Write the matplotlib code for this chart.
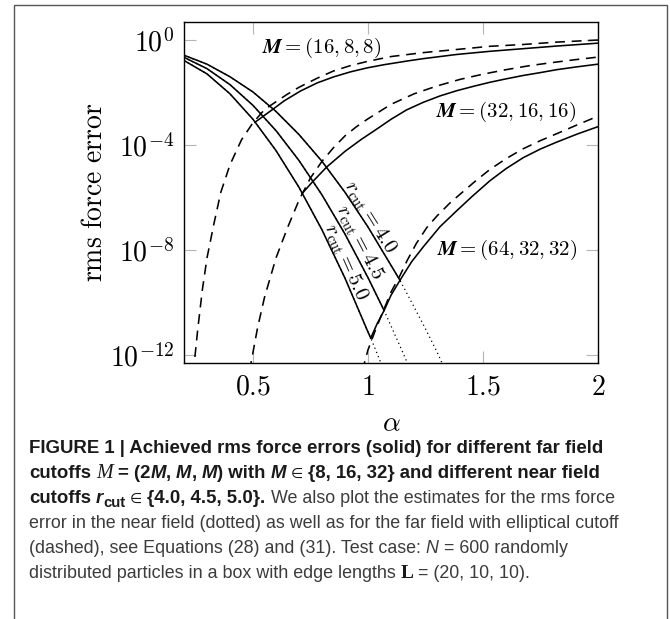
import matplotlib
matplotlib.use("Agg")
import matplotlib.pyplot as plt
from matplotlib import font_manager
from matplotlib.patches import Rectangle
from matplotlib.ticker import NullLocator
import numpy as np

# ---- data (log10 of rms force error) ----
# near field estimates (dotted) per r_cut; achieved error follows them up to the kink
near40_alpha = [0.2, 0.3, 0.4, 0.5, 0.6, 0.7, 0.8, 0.9, 1.0, 1.1, 1.139, 1.2, 1.25, 1.3, 1.33]
near40_log = [-0.58, -0.92, -1.40, -1.98, -2.72, -3.60, -4.62, -5.80, -7.12, -8.58, -9.15, -10.16, -11.0, -11.88, -12.45]
near45_alpha = [0.2, 0.3, 0.4, 0.5, 0.6, 0.7, 0.8, 0.9, 1.0, 1.07, 1.1, 1.15, 1.18]
near45_log = [-0.66, -1.09, -1.70, -2.49, -3.45, -4.59, -5.90, -7.39, -9.05, -10.30, -10.89, -11.87, -12.48]
near50_alpha = [0.2, 0.3, 0.4, 0.5, 0.6, 0.7, 0.8, 0.9, 1.0, 1.012, 1.04, 1.07]
near50_log = [-0.78, -1.29, -2.05, -3.02, -4.21, -5.61, -7.23, -9.07, -11.12, -11.35, -11.95, -12.6]
kink_alpha = {"4.0": 1.139, "4.5": 1.07, "5.0": 1.012}

# far field estimates (dashed), elliptical cutoff
far16_est_alpha = [0.24, 0.26, 0.28, 0.30, 0.33, 0.36, 0.40, 0.45, 0.50, 0.55, 0.60, 0.65, 0.70, 0.78,
                   0.85, 0.925, 1.0, 1.1, 1.24, 1.386, 1.53, 1.675, 1.82, 2.0]
far16_est_log = [-12.7, -11.0, -9.5, -8.3, -7.0, -5.8, -4.75, -3.8, -3.15, -2.65, -2.35, -2.06, -1.80, -1.45,
                 -1.18, -0.97, -0.81, -0.63, -0.48, -0.36, -0.24, -0.17, -0.08, 0.0]
far32_est_alpha = [0.485, 0.52, 0.55, 0.60, 0.65, 0.70, 0.75, 0.80, 0.85, 0.90, 0.95, 1.0, 1.1, 1.2, 1.3,
                   1.4, 1.5, 1.6, 1.7, 1.8, 1.9, 2.0]
far32_est_log = [-12.6, -10.95, -9.8, -8.3, -7.15, -6.1, -5.25, -4.62, -4.1, -3.65, -3.3, -3.0, -2.45, -2.05,
                 -1.75, -1.5, -1.3, -1.13, -0.98, -0.86, -0.75, -0.65]
far64_est_alpha = [0.975, 1.0, 1.03, 1.06, 1.10, 1.14, 1.17, 1.21, 1.255, 1.30, 1.357, 1.41, 1.47, 1.53,
                   1.60, 1.675, 1.75, 1.82, 1.91, 2.0]
far64_est_log = [-12.6, -11.8, -11.1, -10.45, -9.6, -8.95, -8.4, -7.75, -7.15, -6.7, -6.2, -5.8, -5.35, -4.93,
                 -4.52, -4.14, -3.83, -3.57, -3.23, -2.90]

# achieved far field branches (solid), starting at the r_cut = 5.0 kink
far16_alpha = [0.509, 0.545, 0.586, 0.635, 0.707, 0.78, 0.852, 0.925, 0.997, 1.07, 1.17, 1.24, 1.386,
               1.53, 1.675, 1.82, 2.0]
far16_log = [-3.13, -2.90, -2.64, -2.32, -1.94, -1.63, -1.40, -1.21, -1.06, -0.94, -0.80, -0.71, -0.55,
             -0.43, -0.33, -0.23, -0.12]
far32_alpha = [0.714, 0.761, 0.82, 0.90, 0.97, 1.04, 1.10, 1.168, 1.241, 1.313, 1.386, 1.46, 1.53, 1.6,
               1.675, 1.75, 1.82, 1.91, 2.0]
far32_log = [-5.84, -5.38, -4.84, -4.24, -3.79, -3.38, -3.02, -2.66, -2.37, -2.13, -1.93, -1.76, -1.61,
             -1.48, -1.35, -1.24, -1.13, -1.02, -0.92]
far64_alpha = [1.012, 1.04, 1.07, 1.10, 1.139, 1.19, 1.241, 1.313, 1.386, 1.451, 1.53, 1.60, 1.675, 1.75,
               1.82, 1.91, 2.0]
far64_log = [-11.35, -10.80, -10.30, -9.72, -9.15, -8.44, -7.87, -7.11, -6.50, -5.97, -5.36, -4.90, -4.48,
             -4.15, -3.89, -3.58, -3.30]

ytick_vals = [1e0, 1e-4, 1e-8, 1e-12]
ytick_labels = [r"$10^{0}$", r"$10^{-4}$", r"$10^{-8}$", r"$10^{-12}$"]
xtick_vals = [0.5, 1, 1.5, 2]
xtick_labels = [r"$0.5$", r"$1$", r"$1.5$", r"$2$"]

plt.rcParams["mathtext.fontset"] = "cm"

W, H = 670, 619
fig = plt.figure(figsize=(W / 100, H / 100), dpi=100)
ax = fig.add_axes([184 / W, 1 - 363 / H, 414 / W, 341 / H])
ax.set_yscale("log")
ax.set_xlim(0.2, 2.0)
ax.set_ylim(10 ** -12.3, 10 ** 0.686)

lw = 1.15
dashed = (0, (6.2, 4.2))
dotted = (0, (1, 2.6))

for a, v in [(far16_est_alpha, far16_est_log), (far32_est_alpha, far32_est_log), (far64_est_alpha, far64_est_log)]:
    ax.plot(a, 10.0 ** np.array(v), color="black", lw=lw, linestyle=dashed, zorder=2)

for key, a, v in [("4.0", near40_alpha, near40_log), ("4.5", near45_alpha, near45_log), ("5.0", near50_alpha, near50_log)]:
    a = np.array(a)
    v = 10.0 ** np.array(v)
    ax.plot(a, v, color="black", lw=0.9, linestyle=dotted, zorder=2)
    m = a <= kink_alpha[key] + 1e-9
    ax.plot(a[m], v[m], color="black", lw=lw, zorder=3)

for a, v in [(far16_alpha, far16_log), (far32_alpha, far32_log), (far64_alpha, far64_log)]:
    ax.plot(a, 10.0 ** np.array(v), color="black", lw=lw, zorder=3)

# labels in the plot
lab = 15
ax.text(0.80, 10 ** -0.30, r"$\mathbfit{M} = (16, 8, 8)$", fontsize=lab, ha="center", va="center")
ax.text(1.60, 10 ** -2.74, r"$\mathbfit{M} = (32, 16, 16)$", fontsize=lab, ha="center", va="center")
ax.text(1.604, 10 ** -8.0, r"$\mathbfit{M} = (64, 32, 32)$", fontsize=lab, ha="center", va="center",
        bbox=dict(fc="white", ec="none", pad=0.5))
ax.text(1.009, 10 ** -6.74, r"$r_{\mathrm{cut}} = 4.0$", fontsize=lab, rotation=-58,
        rotation_mode="anchor", ha="center", va="center")
ax.text(0.965, 10 ** -7.70, r"$r_{\mathrm{cut}} = 4.5$", fontsize=lab, rotation=-62.5,
        rotation_mode="anchor", ha="center", va="center")
ax.text(0.904, 10 ** -8.46, r"$r_{\mathrm{cut}} = 5.0$", fontsize=lab, rotation=-66,
        rotation_mode="anchor", ha="center", va="center")

ax.set_yticks(ytick_vals)
ax.set_yticklabels(ytick_labels)
ax.yaxis.set_minor_locator(NullLocator())
ax.set_xticks(xtick_vals)
ax.set_xticklabels(xtick_labels)
ax.tick_params(direction="in", length=8.5, width=0.8, color="#b5b5b5", top=True, right=True,
               labelsize=20, pad=7)
for s in ax.spines.values():
    s.set_linewidth(1.0)

ax.set_ylabel(r"$\mathrm{rms\ force\ error}$", fontsize=20)
ax.yaxis.set_label_coords(-0.184, 0.5)
ax.set_xlabel(r"$\alpha$", fontsize=20)
ax.xaxis.set_label_coords(0.5, -0.135)

# outer frame
fig.add_artist(Rectangle((14 / W, -0.1), 653 / W, 1.1 - 4.5 / H, transform=fig.transFigure,
                         fill=False, ec="#555555", lw=1.0, clip_on=False))

# caption
try:
    font_manager.findfont("Liberation Sans Narrow", fallback_to_default=False)
    sans = "Liberation Sans Narrow"
except ValueError:
    sans = "Liberation Sans"
cap = 13.4
reg = 12.9
B = dict(family=[sans, "DejaVu Sans"], fontsize=cap, weight="bold", color="#1a1a1a")
BI = dict(family=[sans, "DejaVu Sans"], fontsize=cap, weight="bold", style="italic", color="#1a1a1a")
R = dict(family=[sans, "DejaVu Sans"], fontsize=reg, color="#3c3c3c")
RI = dict(family=[sans, "DejaVu Sans"], fontsize=reg, style="italic", color="#3c3c3c")
EL = dict(family=["DejaVu Sans"], fontsize=cap * 0.75, color="#1a1a1a")
SI = dict(family=["Liberation Serif"], fontsize=cap + 1, style="italic", color="#1a1a1a")
SB = dict(family=["Liberation Serif"], fontsize=reg + 1, weight="bold", color="#1a1a1a")
SUB = dict(family=[sans, "DejaVu Sans"], fontsize=cap * 0.8, weight="bold", color="#1a1a1a")

renderer = fig.canvas.get_renderer()


def width(s, kw):
    t = fig.text(0, 0, s, **kw)
    w = t.get_window_extent(renderer).width
    t.remove()
    return w


def caption_line(y, parts):
    x = 29.0
    for s, kw, dy in parts:
        if s.startswith(" "):
            x += width("x x", kw) - width("xx", kw)
        s = s.strip(" ")
        t = fig.text(x / W, 1 - (y + dy) / H, s, va="baseline", ha="left", **kw)
        x += t.get_window_extent(renderer).width


caption_line(453, [("FIGURE 1 | Achieved rms force errors (solid) for different far field", B, 0)])
caption_line(478, [("cutoffs", B, 0), (" M", SI, 0), (" = (2", B, 0), ("M", BI, 0), (",", B, 0),
                   (" M", BI, 0), (",", B, 0), (" M", BI, 0), (") with", B, 0), (" M", BI, 0),
                   (" \u2208", EL, 0), (" {8, 16, 32} and different near field", B, 0)])
caption_line(503, [("cutoffs", B, 0), (" r", BI, 0), ("cut", SUB, 4), (" \u2208", EL, 0),
                   (" {4.0, 4.5, 5.0}.", B, 0), (" We also plot the estimates for the rms force", R, 0)])
caption_line(528, [("error in the near field (dotted) as well as for the far field with elliptical cutoff", R, 0)])
caption_line(553, [("(dashed), see Equations (28) and (31). Test case:", R, 0), (" N", RI, 0),
                   (" = 600 randomly", R, 0)])
caption_line(578, [("distributed particles in a box with edge lengths", R, 0), (" L", SB, 0),
                   (" = (20, 10, 10).", R, 0)])

fig.savefig("out.png", dpi=100)
